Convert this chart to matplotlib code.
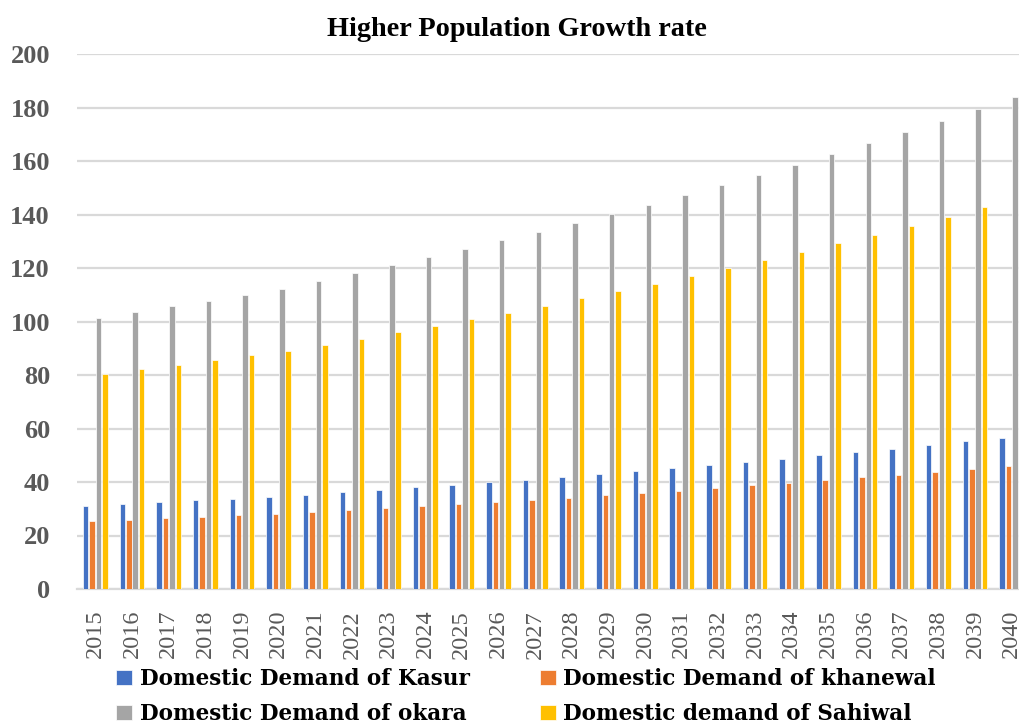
import numpy as np
import matplotlib
matplotlib.use("Agg")
import matplotlib.pyplot as plt

years = list(range(2015, 2041))

kasur = [31.0, 31.8, 32.4, 33.2, 33.8, 34.4, 35.3, 36.1, 37.0, 38.0, 38.9, 39.9, 40.9,
         41.9, 43.0, 44.0, 45.1, 46.4, 47.5, 48.6, 50.0, 51.2, 52.3, 53.7, 55.2, 56.4]
khanewal = [25.4, 25.8, 26.4, 26.9, 27.5, 28.0, 28.8, 29.4, 30.2, 30.9, 31.8, 32.5, 33.3,
            34.1, 35.0, 35.9, 36.7, 37.8, 38.8, 39.8, 40.7, 41.8, 42.6, 43.7, 45.0, 46.0]
okara = [101.4, 103.4, 105.7, 107.8, 109.9, 112.1, 115.1, 118.0, 121.0, 124.0, 127.0, 130.3, 133.5,
         136.8, 140.2, 143.7, 147.3, 151.0, 154.8, 158.6, 162.6, 166.7, 170.8, 175.1, 179.4, 183.9]
sahiwal = [80.5, 82.1, 83.8, 85.6, 87.4, 89.1, 91.3, 93.6, 96.0, 98.4, 100.8, 103.3, 105.9,
           108.6, 111.3, 114.1, 117.0, 120.0, 123.0, 126.0, 129.2, 132.3, 135.7, 139.2, 142.7, 146.3]

series = [
    ("Domestic Demand of Kasur", kasur, "#4472C4"),
    ("Domestic Demand of khanewal", khanewal, "#ED7D31"),
    ("Domestic Demand of okara", okara, "#A5A5A5"),
    ("Domestic demand of Sahiwal", sahiwal, "#FFC000"),
]

fig = plt.figure(figsize=(10.2, 7.26), dpi=100)
ax = fig.add_axes([77 / 1020, 137 / 726, 953 / 1020, 535 / 726])

x = np.arange(len(years))
step = 0.175
width = 0.15
bars = []
for i, (name, vals, col) in enumerate(series):
    b = ax.bar(x + (i - 1.5) * step, vals, width, color=col, edgecolor="white",
               linewidth=0.5, label=name, zorder=3)
    bars.append(b)

ax.set_xlim(-0.5, len(years) - 0.5)
ax.set_ylim(0, 200)
ax.set_yticks(range(0, 201, 20))
ax.yaxis.grid(True, color="#D9D9D9", linewidth=1.6, zorder=0)
ax.set_axisbelow(True)
for s in ["top", "right", "left"]:
    ax.spines[s].set_visible(False)
ax.spines["bottom"].set_color("#D9D9D9")
ax.spines["bottom"].set_linewidth(1.6)

ax.set_xticks(x)
ax.set_xticklabels([str(y) for y in years], rotation=90, fontsize=17.5,
                   family="Liberation Serif", color="#595959")
ax.tick_params(axis="x", length=0, pad=15)
ax.tick_params(axis="y", length=0, pad=19.5)
for lab in ax.get_yticklabels():
    lab.set_fontfamily("Liberation Serif")
    lab.set_fontweight("bold")
    lab.set_fontsize(19)
    lab.set_color("#595959")

fig.text(517 / 1020, 1 - 29 / 726, "Higher Population Growth rate", ha="center", va="center",
         family="Liberation Serif", fontweight="bold", fontsize=20.3, color="black")

# legend: matplotlib fills column by column
order = [0, 2, 1, 3]
fig.legend([bars[i] for i in order], [series[i][0] for i in order],
           loc="upper left", bbox_to_anchor=(116 / 1020, 1 - 668 / 726), ncol=2,
           frameon=False, handlelength=0.75, handleheight=0.7, handletextpad=0.35,
           columnspacing=3.25, labelspacing=0.6, borderaxespad=0, borderpad=0,
           prop={"family": "DejaVu Serif", "weight": "bold", "size": 15.5})

plt.savefig("out.png", dpi=100)
plt.close()
